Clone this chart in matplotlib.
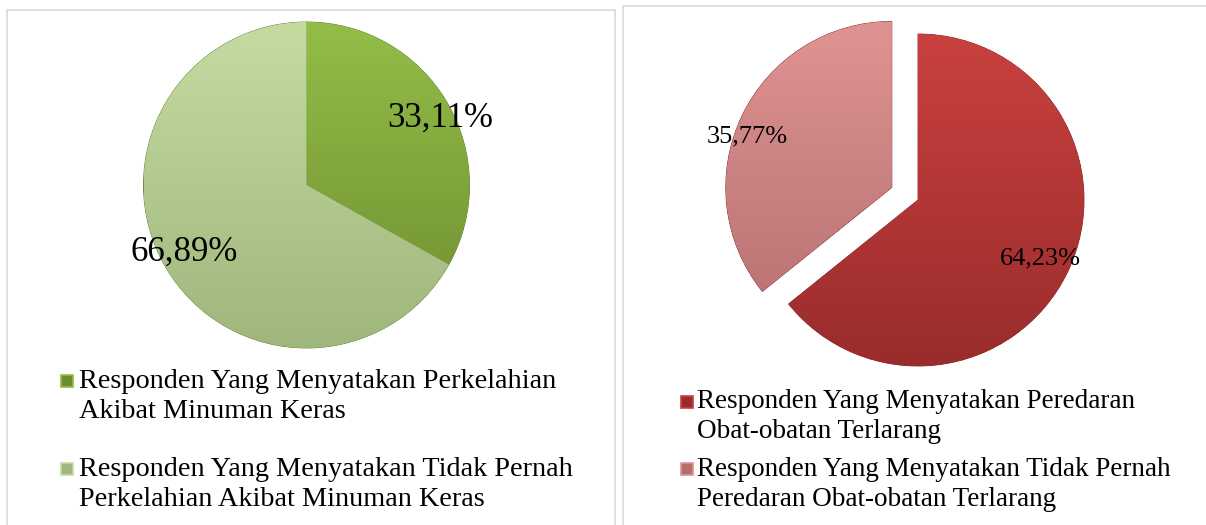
import numpy as np
import matplotlib.pyplot as plt
from matplotlib.patches import Rectangle
from matplotlib.colors import LinearSegmentedColormap

plt.rcParams['font.family'] = ['Liberation Serif', 'DejaVu Serif']

# data
left_labels = ['Responden Yang Menyatakan Perkelahian\nAkibat Minuman Keras',
               'Responden Yang Menyatakan Tidak Pernah\nPerkelahian Akibat Minuman Keras']
left_values = [33.11, 66.89]
left_top = ['#93bd48', '#c5dba2']
left_bot = ['#6d8d30', '#9fb67d']

right_labels = ['Responden Yang Menyatakan Peredaran\nObat-obatan Terlarang',
                'Responden Yang Menyatakan Tidak Pernah\nPeredaran Obat-obatan Terlarang']
right_values = [64.23, 35.77]
right_top = ['#c9413f', '#e09393']
right_bot = ['#9a2c2c', '#b46e6e']

W, H = 1206, 525
fig = plt.figure(figsize=(W / 100, H / 100), dpi=100)


def px_axes(cx, cy, r, pad=1.4):
    # axes whose data unit = r pixels, centred on (cx, cy) (pixels from top-left)
    ax = fig.add_axes([(cx - pad * r) / W, (H - cy - pad * r) / H,
                       2 * pad * r / W, 2 * pad * r / H])
    ax.set_xlim(-pad, pad)
    ax.set_ylim(-pad, pad)
    ax.axis('off')
    return ax


def fmt(p):
    return '{:.2f}%'.format(p).replace('.', ',')


def shade(ax, wedges, tops, bots):
    for w, t, b in zip(wedges, tops, bots):
        cx, cy = w.center
        cmap = LinearSegmentedColormap.from_list('g', [b, t])
        grad = np.linspace(0, 1, 256).reshape(-1, 1)
        im = ax.imshow(grad, cmap=cmap, origin='lower', aspect='auto',
                       extent=(cx - 1, cx + 1, cy - 1, cy + 1), zorder=w.get_zorder() + 0.1)
        im.set_clip_path(w)
    ax.set_xlim(-1.4, 1.4)
    ax.set_ylim(-1.4, 1.4)


# left pie
ax1 = px_axes(306.5, 185, 163)
w1, t1 = ax1.pie(left_values, startangle=90, counterclock=False,
                 colors=left_top, autopct=fmt, pctdistance=0.9,
                 wedgeprops=dict(edgecolor='#5e7a2a', linewidth=0.6),
                 textprops=dict(fontsize=25, color='black', zorder=10))[0:3:2]
shade(ax1, w1, left_top, left_bot)
t1[0].set_position((0.82, 0.41))
t1[1].set_position((-0.75, -0.41))

# right pie
ax2 = px_axes(918, 200, 166)
w2, t2 = ax2.pie(right_values, startangle=90, counterclock=False,
                 colors=right_top, explode=[0, 0.175], autopct=fmt,
                 wedgeprops=dict(edgecolor='#7a2020', linewidth=0.6),
                 textprops=dict(fontsize=19, color='black', zorder=10))[0:3:2]
shade(ax2, w2, right_top, right_bot)
t2[0].set_position((0.74, -0.35))
t2[1].set_position((-1.03, 0.38))


# legends
def legend(labels, tops, bots, x_sq, x_txt, ys, size):
    k = 0
    for lab, t, b in zip(labels, tops, bots):
        y0 = ys[k]
        fig.add_artist(Rectangle((x_sq / W, 1 - (y0 + 6) / H), 12 / W, 12 / H,
                                 transform=fig.transFigure, facecolor=b,
                                 edgecolor=t, linewidth=1.2))
        for line in lab.split('\n'):
            fig.text(x_txt / W, 1 - ys[k] / H, line, fontsize=size,
                     ha='left', va='center')
            k += 1


legend(left_labels, left_top, left_bot, 61, 79, [381, 411, 469, 499], 20.3)
legend(right_labels, right_top, right_bot, 681, 697, [402, 432, 469, 499], 19.5)

# panel borders
for x0, y0, x1, y1 in [(7, 10, 615, 530), (623, 6, 1210, 530)]:
    fig.add_artist(Rectangle((x0 / W, 1 - y1 / H), (x1 - x0) / W, (y1 - y0) / H,
                             transform=fig.transFigure, fill=False,
                             edgecolor='#d9d9d9', linewidth=1.2))

fig.savefig('out.png', dpi=100)
